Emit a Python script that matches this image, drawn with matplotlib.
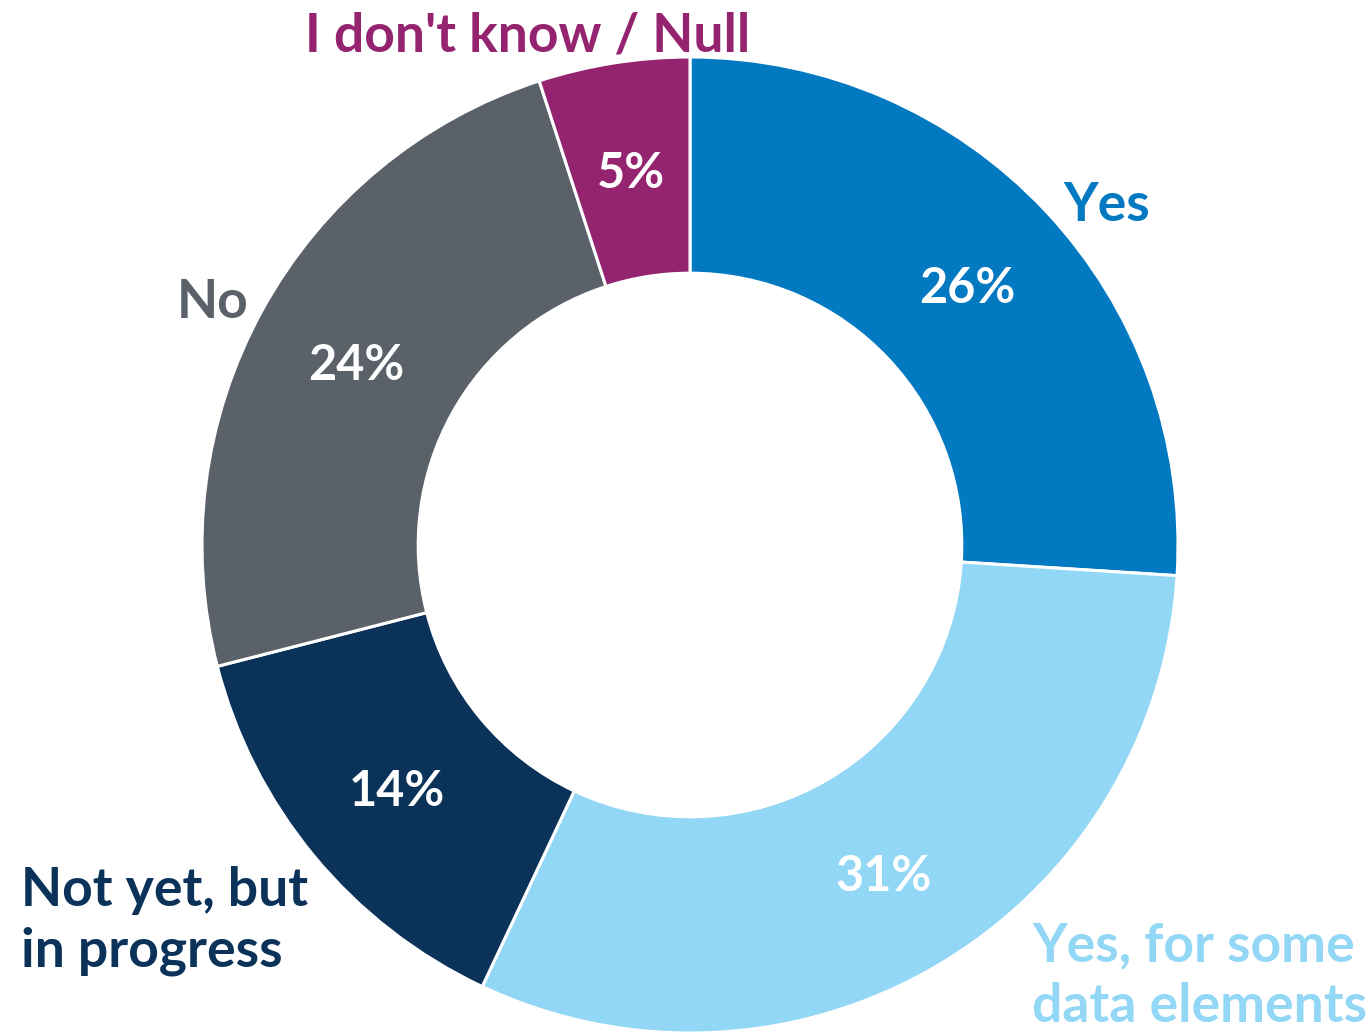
import matplotlib
matplotlib.use("Agg")
import matplotlib.pyplot as plt

categories = ["Yes", "Yes, for some\ndata elements", "Not yet, but\nin progress", "No", "I don't know / Null"]
values = [26, 31, 14, 24, 5]
colors = ["#0279C1", "#92D7F5", "#0B3359", "#5B6169", "#952470"]

W, H = 1371, 1035
fig = plt.figure(figsize=(W / 100, H / 100), dpi=100)
ax = fig.add_axes([0, 0, 1, 1])

cx, cy = 690, H - 545
R = 488
wedges, texts, autotexts = ax.pie(
    values, colors=colors, startangle=90, counterclock=False,
    center=(cx, cy), radius=R,
    autopct=lambda p: f"{p:.0f}%", pctdistance=0.78,
    wedgeprops=dict(width=R * 0.443, edgecolor="white", linewidth=2.2),
    textprops=dict(family="Lato", weight="bold", fontsize=35, color="white"),
    frame=True,
)
for t in autotexts:
    t.set_va("center_baseline")
ax.set_xlim(0, W)
ax.set_ylim(0, H)
ax.set_aspect("equal")
ax.axis("off")

# category labels (left x, baseline of last line, pixels from top)
label_pos = [(1063, 221), (1032, 1022), (21, 967), (177, 318), (305, 51)]
for cat, col, (px, py) in zip(categories, colors, label_pos):
    ax.text(px, H - py, cat, color=col, family="Lato", weight="bold",
            fontsize=38.5, ha="left", va="baseline", linespacing=1.3, zorder=5)

fig.savefig("out.png", dpi=100)
